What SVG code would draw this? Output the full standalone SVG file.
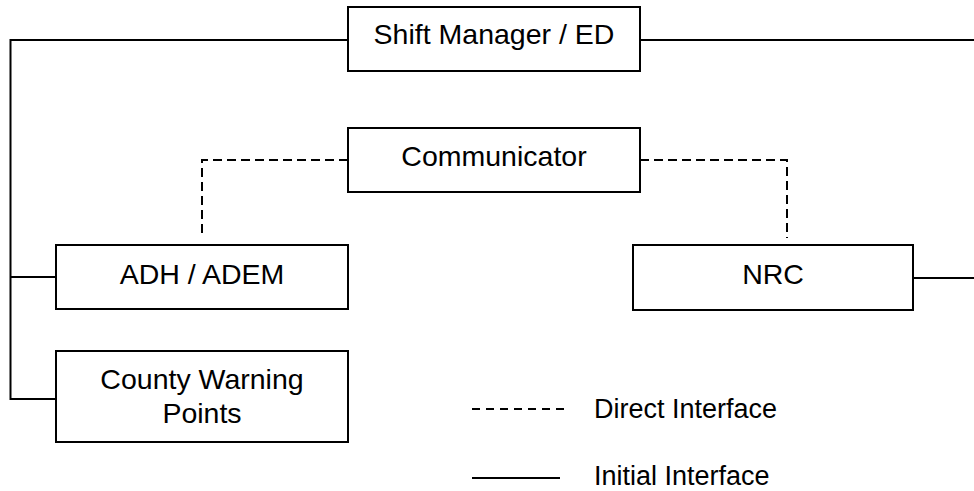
<svg xmlns="http://www.w3.org/2000/svg" width="974" height="491" viewBox="0 0 974 491">
<style>
.box{fill:#fff;stroke:#000;stroke-width:2}
.t{font-family:"Liberation Sans",Arial,sans-serif;font-size:28.5px;fill:#000;text-anchor:middle}
.lt{font-family:"Liberation Sans",Arial,sans-serif;font-size:27px;fill:#000}
.solid{fill:none;stroke:#000;stroke-width:2}
.dash{fill:none;stroke:#000;stroke-width:2;stroke-dasharray:9 5}
</style>
<rect width="974" height="491" fill="#fff"/>
<g id="connectors">
<path class="solid" d="M348,40 H10.5 V399 H56"/>
<path class="solid" d="M10.5,277 H56"/>
<path class="solid" d="M640,40 H974"/>
<path class="solid" d="M913,278 H974"/>
<path class="dash" d="M348,160 H202 V238"/>
<path class="dash" d="M640,160 H787 V238"/>
</g>
<g id="shift-manager">
<rect class="box" x="348" y="7" width="292" height="64"/>
<text class="t" x="494" y="44">Shift Manager / ED</text>
</g>
<g id="communicator">
<rect class="box" x="348" y="128" width="292" height="64"/>
<text class="t" x="494" y="166">Communicator</text>
</g>
<g id="adh-adem">
<rect class="box" x="56" y="245" width="292" height="64"/>
<text class="t" x="202" y="284">ADH / ADEM</text>
</g>
<g id="nrc">
<rect class="box" x="633" y="245" width="280" height="65"/>
<text class="t" x="773" y="284">NRC</text>
</g>
<g id="county-warning-points">
<rect class="box" x="56" y="351" width="292" height="91"/>
<text class="t" x="202" y="389">County Warning</text>
<text class="t" x="202" y="423">Points</text>
</g>
<g id="legend">
<line class="dash" x1="472" y1="409" x2="568" y2="409" style="stroke-dasharray:8 6"/>
<text class="lt" x="594" y="418">Direct Interface</text>
<line class="solid" x1="472" y1="478" x2="560" y2="478"/>
<text class="lt" x="594" y="485">Initial Interface</text>
</g>
</svg>
